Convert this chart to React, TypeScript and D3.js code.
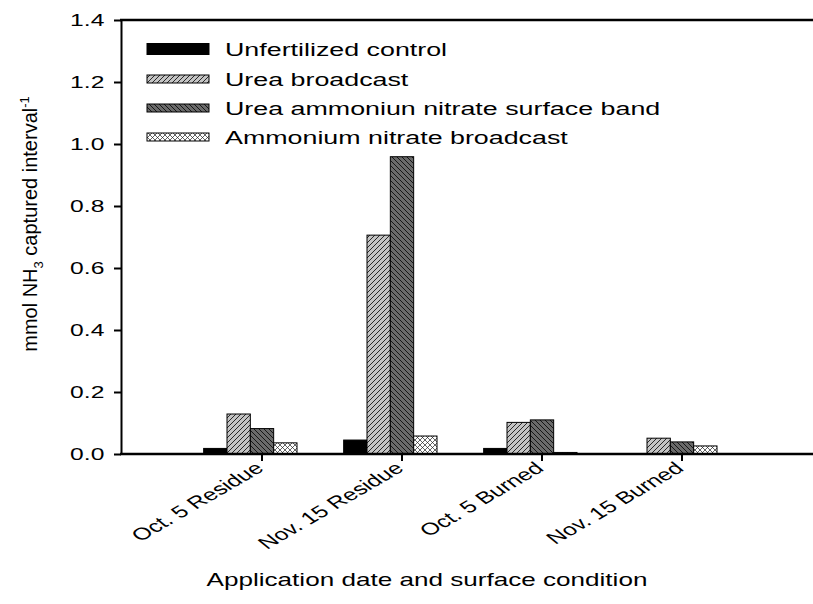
import React, { useEffect, useRef } from 'react';
import * as d3 from 'd3';

const categories = ['Oct. 5 Residue', 'Nov. 15 Residue', 'Oct. 5 Burned', 'Nov. 15 Burned'];
const seriesNames = [
  'Unfertilized control',
  'Urea broadcast',
  'Urea ammoniun nitrate surface band',
  'Ammonium nitrate broadcast',
];
const unfertilized = [0.018, 0.045, 0.018, 0];
const ureaBroadcast = [0.129, 0.706, 0.102, 0.051];
const uanBand = [0.082, 0.959, 0.11, 0.039];
const anBroadcast = [0.036, 0.058, 0.005, 0.026];
const yTicks = [0, 0.2, 0.4, 0.6, 0.8, 1.0, 1.2, 1.4];

const SX = 1.45; // the picture is stretched sideways
const FONT = 'Liberation Sans, Arial, sans-serif';

const App = () => {
  const svgRef = useRef(null);

  useEffect(() => {
    const svg = d3.select(svgRef.current);
    svg.selectAll('*').remove();

    const width = 813;
    const left = 121;
    const top = 20;
    const bottom = 454;

    const series = [unfertilized, ureaBroadcast, uanBand, anBroadcast];
    const fills = ['#000', 'url(#pUrea)', 'url(#pUan)', 'url(#pAn)'];

    // hatch patterns
    const defs = svg.append('defs');
    const p1 = defs.append('pattern').attr('id', 'pUrea').attr('patternUnits', 'userSpaceOnUse')
      .attr('width', 5).attr('height', 5);
    p1.append('rect').attr('width', 5).attr('height', 5).attr('fill', '#c4c4c4');
    p1.append('path').attr('d', 'M-1,1 L1,-1 M0,5 L5,0 M4,6 L6,4').attr('stroke', '#000').attr('stroke-width', 0.8);

    const p2 = defs.append('pattern').attr('id', 'pUan').attr('patternUnits', 'userSpaceOnUse')
      .attr('width', 5).attr('height', 5);
    p2.append('rect').attr('width', 5).attr('height', 5).attr('fill', '#6a6a6a');
    p2.append('path').attr('d', 'M-1,4 L1,6 M0,0 L5,5 M4,-1 L6,1').attr('stroke', '#000').attr('stroke-width', 0.8);

    const p3 = defs.append('pattern').attr('id', 'pAn').attr('patternUnits', 'userSpaceOnUse')
      .attr('width', 5).attr('height', 5);
    p3.append('rect').attr('width', 5).attr('height', 5).attr('fill', '#fff');
    p3.append('path').attr('d', 'M-1,1 L1,-1 M0,5 L5,0 M4,6 L6,4 M-1,4 L1,6 M0,0 L5,5 M4,-1 L6,1')
      .attr('stroke', '#222').attr('stroke-width', 0.7);

    const x = d3.scaleLinear().domain([0, 5]).range([left + 1, left + 1 + 700]);
    const y = d3.scaleLinear().domain([0, 1.4]).range([bottom, top]);
    const step = x(1) - x(0);
    const bw = step / 6;

    // bars, group sits half a bar left of its tick
    series.forEach((vals, j) => {
      svg.append('g')
        .selectAll('rect')
        .data(vals)
        .enter()
        .append('rect')
        .attr('x', (d, i) => x(i + 1) + (j - 2.5) * bw)
        .attr('y', d => y(d))
        .attr('width', bw)
        .attr('height', d => bottom - y(d))
        .attr('fill', fills[j])
        .attr('stroke', '#000')
        .attr('stroke-width', d => (d > 0 ? 1 : 0));
    });

    // axes
    const yAxis = svg.append('g')
      .attr('transform', `translate(${left}, 0)`)
      .call(d3.axisLeft(y).tickValues(yTicks).tickSize(7).tickSizeOuter(0).tickFormat(d3.format('.1f')));
    yAxis.select('.domain').attr('stroke-width', 2);
    yAxis.selectAll('.tick line').attr('stroke-width', 2);
    yAxis.selectAll('.tick text')
      .attr('x', -11.5)
      .attr('transform', `scale(${SX},1)`)
      .style('font-family', FONT)
      .style('font-size', '17px')
      .attr('fill', '#000');

    svg.append('line')
      .attr('x1', left - 1).attr('x2', width)
      .attr('y1', bottom).attr('y2', bottom)
      .attr('stroke', '#000').attr('stroke-width', 2.5);
    svg.append('line')
      .attr('x1', left - 1).attr('x2', width)
      .attr('y1', top).attr('y2', top)
      .attr('stroke', '#000').attr('stroke-width', 2.5);

    const xTicks = svg.append('g');
    categories.forEach((c, i) => {
      xTicks.append('line')
        .attr('x1', x(i + 1)).attr('x2', x(i + 1))
        .attr('y1', bottom).attr('y2', bottom + 7)
        .attr('stroke', '#000').attr('stroke-width', 2);
      xTicks.append('text')
        .attr('transform', `translate(${x(i + 1) + 3}, ${bottom + 16}) scale(${SX},1) rotate(-40)`)
        .attr('text-anchor', 'end')
        .style('font-family', FONT)
        .style('font-size', '17px')
        .text(c);
    });

    // axis titles
    svg.append('text')
      .attr('transform', `translate(${(left + width) / 2 - 40}, 586) scale(${SX},1)`)
      .attr('text-anchor', 'middle')
      .style('font-family', FONT)
      .style('font-size', '18px')
      .text('Application date and surface condition');

    const yl = svg.append('text')
      .attr('transform', `translate(37, 224) rotate(-90)`)
      .attr('text-anchor', 'middle')
      .style('font-family', FONT)
      .style('font-size', '20px');
    yl.append('tspan').text('mmol NH');
    yl.append('tspan').attr('dy', 6).style('font-size', '13px').text('3');
    yl.append('tspan').attr('dy', -6).text(' captured interval');
    yl.append('tspan').attr('dy', -8).style('font-size', '13px').text('-1');

    // legend
    const rowY = [49, 79, 108, 137];
    const swH = [11, 8, 8, 8];
    const legend = svg.append('g');
    seriesNames.forEach((name, j) => {
      legend.append('rect')
        .attr('x', 147).attr('y', rowY[j] - swH[j] / 2)
        .attr('width', 62).attr('height', swH[j])
        .attr('fill', fills[j])
        .attr('stroke', '#000').attr('stroke-width', 1);
      legend.append('text')
        .attr('transform', `translate(225, ${rowY[j]}) scale(${SX},1)`)
        .attr('dy', '0.36em')
        .style('font-family', FONT)
        .style('font-size', '18.5px')
        .text(name);
    });
  }, []);

  return (
    <svg ref={svgRef} width={813} height={604} style={{ position: 'absolute', left: 0, top: 0, background: '#fff' }}></svg>
  );
};

export default App;
